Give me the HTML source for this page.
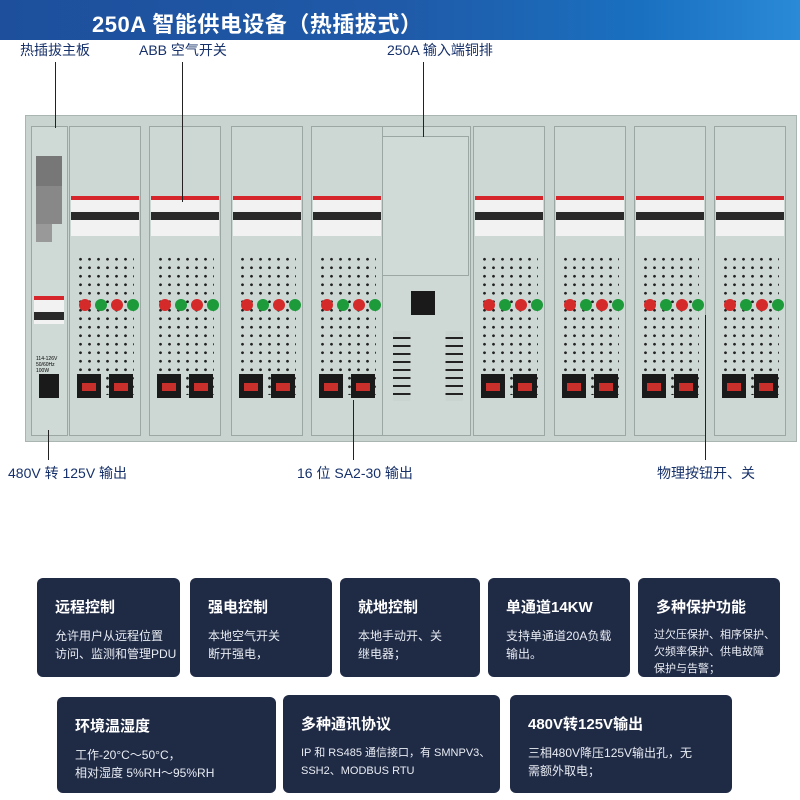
<!DOCTYPE html>
<html><head><meta charset="utf-8"><style>
*{margin:0;padding:0;box-sizing:border-box}
body{width:800px;height:800px;background:#fff;position:relative;overflow:hidden;font-family:"Liberation Sans","Noto Sans CJK SC",sans-serif}
.hdr{position:absolute;left:0;top:0;width:800px;height:40px;background:linear-gradient(90deg,#1d4f9c,#1f5aa8 50%,#1a70c0 80%,#2a8ad8)}
.hdr h1{position:absolute;left:92px;top:7px;color:#fff;font-size:22px;font-weight:bold;letter-spacing:0.5px}
.lb{position:absolute;color:#16306a;font-size:14px;white-space:nowrap}
.ln{position:absolute;background:#222;width:1px}
.dev{position:absolute;left:25px;top:115px;width:772px;height:327px;background:#c9d4d0;border:1px solid #a9b5b1}
.mod{position:absolute;top:10px;height:310px;border:1px solid #9aa7a3;background:#cdd8d4}
.brk{position:absolute;top:80px;height:40px;background:#f2f2f2;border-top:4px solid #d6262b}
.brk i{position:absolute;left:0;right:0;top:12px;height:8px;background:#2a2a2a}
.perf{position:absolute;top:128px;left:6px;right:6px;bottom:40px;background-image:radial-gradient(circle,#222 1.2px,transparent 1.6px);background-size:9px 8.5px}
.btn{position:absolute;top:183px;width:12px;height:12px;border-radius:50%}
.sock{position:absolute;top:258px;width:24px;height:24px;background:#1a1a1a}
.sock i{position:absolute;left:5px;top:9px;width:14px;height:8px;background:#c9302c}
.card{position:absolute;background:#1f2a45;border-radius:6px;color:#fff;padding:18px 0 0 18px}
.card b{display:block;font-size:15px;font-weight:bold;margin-bottom:10px}
.card p{font-size:12px;line-height:18px;color:#e8ecf3}
</style></head><body>
<div class="hdr"><h1>250A 智能供电设备（热插拔式）</h1></div>
<div class="lb" style="left:20px;top:40px">热插拔主板</div>
<div class="lb" style="left:139px;top:40px">ABB 空气开关</div>
<div class="lb" style="left:387px;top:40px">250A 输入端铜排</div>
<div class="dev" id="dev">
 <div class="mod" style="left:5px;width:37px;background:#cfd9d5"></div>
 <div style="position:absolute;left:10px;top:40px;width:26px;height:40px;background:#777"></div>
 <div style="position:absolute;left:10px;top:70px;width:26px;height:38px;background:#888"></div>
 <div style="position:absolute;left:10px;top:108px;width:16px;height:18px;background:#999"></div>
 <div class="brk" style="left:8px;width:30px;top:180px;height:28px"><i></i></div>
 <div style="position:absolute;left:10px;top:240px;font-size:5px;line-height:6px">114-126V<br>50/60Hz<br>100W</div>
 <div style="position:absolute;left:13px;top:258px;width:20px;height:24px;background:#1a1a1a"></div>
 <div class="mod" style="left:353px;width:92px;background:#ced8d4"></div>
 <div style="position:absolute;left:355px;top:20px;width:88px;height:140px;border:1px solid #9aa7a3;background:#d0dad6"></div>
 <div style="position:absolute;left:385px;top:175px;width:24px;height:24px;background:#1a1a1a"></div>
 <div style="position:absolute;left:367px;top:215px;width:70px;height:70px;background:repeating-linear-gradient(#c9d4d0 0 6px,#222 6px 8px);clip-path:polygon(0 0,25% 0,25% 100%,0 100%,0 0,75% 0,100% 0,100% 100%,75% 100%,75% 0)"></div>
</div>
<div class="ln" style="left:55px;top:62px;height:66px"></div>
<div class="ln" style="left:182px;top:62px;height:140px"></div>
<div class="ln" style="left:423px;top:62px;height:75px"></div>
<div class="ln" style="left:48px;top:430px;height:30px"></div>
<div class="ln" style="left:353px;top:400px;height:60px"></div>
<div class="ln" style="left:705px;top:315px;height:145px"></div>
<div class="lb" style="left:8px;top:463px">480V 转 125V 输出</div>
<div class="lb" style="left:297px;top:463px">16 位 SA2-30 输出</div>
<div class="lb" style="left:657px;top:463px">物理按钮开、关</div>
<script>
var d=document.getElementById('dev');
[43,123,205,285,447,528,608,688].forEach(function(x){
 var w=72,h='<div class="mod" style="left:'+x+'px;width:'+w+'px"><div class="perf"></div></div>';
 h+='<div class="brk" style="left:'+(x+2)+'px;width:'+(w-4)+'px"><i></i></div>';
 [10,26,42,58].forEach(function(o,i){h+='<div class="btn" style="left:'+(x+o)+'px;background:'+(i%2?'#1d9a3a':'#d42a2a')+'"></div>';});
 h+='<div class="sock" style="left:'+(x+8)+'px"><i></i></div><div class="sock" style="left:'+(x+40)+'px"><i></i></div>';
 d.insertAdjacentHTML('beforeend',h);
});
</script>
<div class="card" style="left:37px;top:578px;width:143px;height:99px"><b>远程控制</b><p>允许用户从远程位置<br>访问、监测和管理PDU</p></div>
<div class="card" style="left:190px;top:578px;width:142px;height:99px"><b>强电控制</b><p>本地空气开关<br>断开强电，</p></div>
<div class="card" style="left:340px;top:578px;width:140px;height:99px"><b>就地控制</b><p>本地手动开、关<br>继电器；</p></div>
<div class="card" style="left:488px;top:578px;width:142px;height:99px"><b>单通道14KW</b><p>支持单通道20A负载<br>输出。</p></div>
<div class="card" style="left:638px;top:578px;width:142px;height:99px;padding-left:18px"><b>多种保护功能</b><p style="font-size:11px;line-height:17px;white-space:nowrap;margin-left:-2px">过欠压保护、相序保护、<br>欠频率保护、供电故障<br>保护与告警；</p></div>
<div class="card" style="left:57px;top:697px;width:219px;height:96px"><b>环境温湿度</b><p>工作-20°C～50°C，<br>相对湿度 5%RH～95%RH</p></div>
<div class="card" style="left:283px;top:695px;width:217px;height:98px"><b>多种通讯协议</b><p style="font-size:11px">IP 和 RS485 通信接口，有 SMNPV3、<br>SSH2、MODBUS RTU</p></div>
<div class="card" style="left:510px;top:695px;width:222px;height:98px"><b>480V转125V输出</b><p>三相480V降压125V输出孔，无<br>需额外取电；</p></div>
</body></html>
